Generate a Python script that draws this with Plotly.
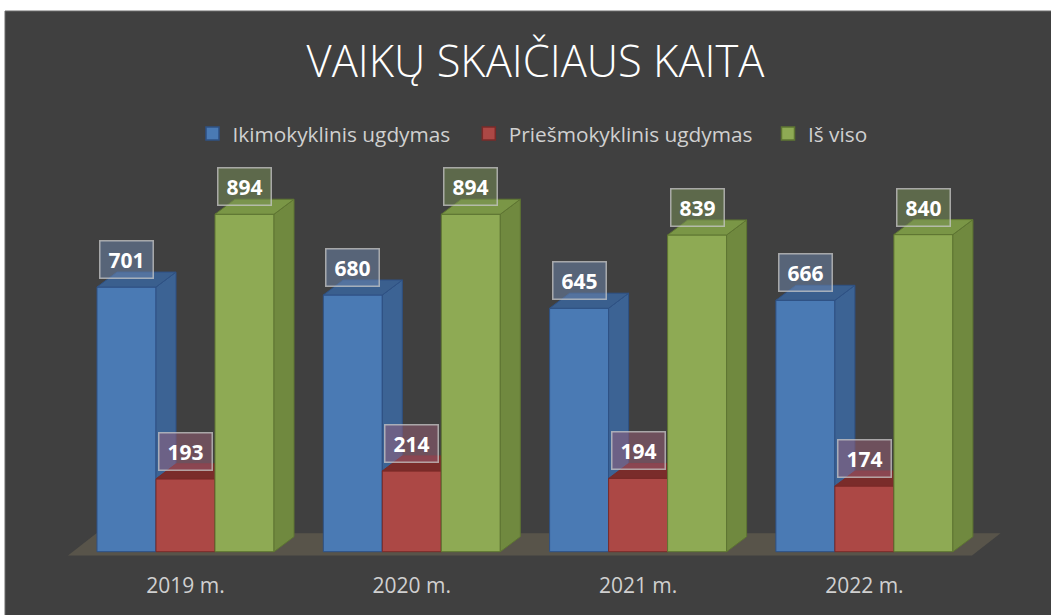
import plotly.graph_objects as go

# ---- data ----
categories = ["2019 m.", "2020 m.", "2021 m.", "2022 m."]
series_names = ["Ikimokyklinis ugdymas", "Priešmokyklinis ugdymas", "Iš viso"]
ikimokyklinis = [701, 680, 645, 666]
priesmokyklinis = [193, 214, 194, 174]
is_viso = [894, 894, 839, 840]
title_text = "VAIKŲ SKAIČIAUS KAITA"

series_values = [ikimokyklinis, priesmokyklinis, is_viso]

# ---- style ----
W, H = 1051, 615
px_per_cat = 226.3
cat0_px = 185.5
px_per_val = 0.3775
val0_py = 551.7
plot_bottom = 559
margin_b = H - plot_bottom
plot_h = plot_bottom

bar_w = 59 / px_per_cat
depth_dx = 20 / px_per_cat
depth_dy = 15 / px_per_val

front_cols = ["#4A7AB4", "#AC4845", "#8EAA54"]
side_cols = ["#3C6394", "#8A3533", "#70893F"]
top_cols = ["#3A5F8E", "#7A2C2A", "#7A9646"]
edge_cols = ["#2E5184", "#7A2A28", "#5E7532"]
label_bg = ["rgba(110,135,175,0.5)", "rgba(155,95,120,0.5)", "rgba(122,146,86,0.5)"]
bg_dark = "#404040"
text_col = "#D0D0D0"
font_main = "Open Sans"

x_range = [-cat0_px / px_per_cat, (W - cat0_px) / px_per_cat]
y_range = [(val0_py - plot_h) / px_per_val, val0_py / px_per_val]

def fx_px(px):
    return (px - cat0_px) / px_per_cat

def fy_px(py):
    return (val0_py - py) / px_per_val

fig = go.Figure()

# floor
n = len(categories)
fl_front, fl_back = fy_px(555.5), fy_px(533.3)
fl_l, fl_r = fx_px(68), fx_px(972)
fl_dx = 28.5 / px_per_cat
fig.add_trace(go.Scatter(
    x=[fl_l, fl_r, fl_r + fl_dx, fl_l + fl_dx, fl_l],
    y=[fl_front, fl_front, fl_back, fl_back, fl_front],
    fill="toself", fillcolor="#58544A", mode="lines",
    line=dict(width=0, color="#58544A"), hoverinfo="skip", showlegend=False))

legend_text_x = [232.5, 508.8, 808]
legend_names = ["legend", "legend2", "legend3"]

for i, vals in enumerate(series_values):
    fx, fy, sx, sy, tx, ty = [], [], [], [], [], []
    for g, v in enumerate(vals):
        c = g + (i - 1) * bar_w
        l, r = c - bar_w / 2, c + bar_w / 2
        fx += [l, r, r, l, l, None]
        fy += [0, 0, v, v, 0, None]
        sx += [r, r + depth_dx, r + depth_dx, r, r, None]
        sy += [0, depth_dy, v + depth_dy, v, 0, None]
        tx += [l, r, r + depth_dx, l + depth_dx, l, None]
        ty += [v, v, v + depth_dy, v + depth_dy, v, None]
    for xs, ys, col in ((fx, fy, front_cols[i]), (sx, sy, side_cols[i]), (tx, ty, top_cols[i])):
        fig.add_trace(go.Scatter(
            x=xs, y=ys, fill="toself", fillcolor=col, mode="lines",
            line=dict(width=1, color=edge_cols[i]), hoverinfo="skip", showlegend=False))
    fig.add_trace(go.Scatter(
        x=[None], y=[None], mode="markers", name=series_names[i],
        marker=dict(symbol="square", size=13, color=front_cols[i],
                    line=dict(width=1.5, color=edge_cols[i])),
        showlegend=True, legend=legend_names[i]))

# data labels
for i, vals in enumerate(series_values):
    for g, v in enumerate(vals):
        c = g + (i - 1) * bar_w
        fig.add_annotation(
            x=c, y=v, xref="x", yref="y", text=f"<b>{v}</b>", showarrow=False,
            yshift=27.5, xanchor="center", yanchor="middle",
            width=52, height=36, borderpad=0, borderwidth=1.5,
            bordercolor="rgba(200,200,200,0.75)", bgcolor=label_bg[i],
            font=dict(family=font_main, size=21, color="#FFFFFF"))

# dark panel
fig.add_shape(type="rect", xref="paper", yref="paper",
              x0=5 / W, x1=1.02, y0=1 - (H + 10) / plot_h, y1=1 - 11 / plot_h,
              fillcolor=bg_dark, line=dict(color="#6A6A6A", width=1), layer="below")

legend_common = dict(orientation="h", xanchor="left", yanchor="middle",
                     y=1 - 134 / plot_h,
                     font=dict(family=font_main, size=20.8, color=text_col),
                     bgcolor="rgba(0,0,0,0)", borderwidth=0)

fig.update_layout(
    width=W, height=H,
    margin=dict(l=0, r=0, t=0, b=margin_b, pad=0),
    paper_bgcolor="#FFFFFF", plot_bgcolor="rgba(0,0,0,0)",
    title=dict(text=title_text, x=535.5 / W, xanchor="center", xref="paper",
               y=1 - 62 / H, yref="container", yanchor="middle",
               font=dict(family=font_main, size=43.5, color="#FFFFFF", weight=300)),
    legend=dict(x=(legend_text_x[0] - 40) / W, **legend_common),
    legend2=dict(x=(legend_text_x[1] - 40) / W, **legend_common),
    legend3=dict(x=(legend_text_x[2] - 40) / W, **legend_common),
    xaxis=dict(range=x_range, tickmode="array", tickvals=list(range(n)), ticktext=categories,
               showgrid=False, zeroline=False, showline=False, ticks="outside", ticklen=8,
               tickcolor="rgba(0,0,0,0)", tickfont=dict(family=font_main, size=21, color=text_col),
               fixedrange=True),
    yaxis=dict(range=y_range, visible=False, fixedrange=True),
    showlegend=True,
)

fig.write_html(
    "out.html",
    config={"displayModeBar": False},
    post_script="document.body.style.margin='0';document.body.style.overflow='hidden';",
)
